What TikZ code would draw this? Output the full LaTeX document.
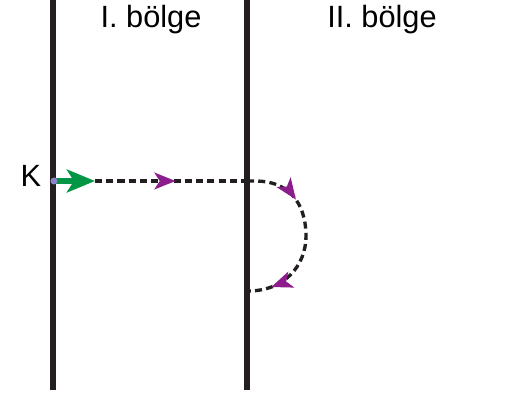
\documentclass[tikz,border=0pt]{standalone}
\usepackage{fontspec}
\setmainfont{Liberation Sans}
\usepackage{tikz}
\usetikzlibrary{arrows.meta, positioning, decorations.markings}

\definecolor{wallgray}{RGB}{35,31,32}
\definecolor{kgreen}{RGB}{0,150,70}
\definecolor{kpurple}{RGB}{140,30,140}
\definecolor{kdot}{RGB}{140,130,200}

\begin{document}
\begin{tikzpicture}[
  x=0.02cm, y=-0.02cm,
  font=\fontsize{17.5}{20}\selectfont,
  wall/.style={line width=2.9pt, wallgray},
  path/.style={line width=1.9pt, wallgray, dash pattern=on 4pt off 2.4pt},
  go/.style={line width=3pt, kgreen, -{Stealth[length=16pt, width=13pt, inset=4pt]}},
  tip/.style={postaction={decorate, decoration={markings,
      mark=at position #1 with {\arrow[kpurple]{Stealth[length=12pt, width=9.5pt, inset=3pt]}}}}},
]
  \useasboundingbox (0,0) rectangle (509,397);

  % walls
  \draw[wall] (53,0) -- (53,390);
  \draw[wall] (247,0) -- (247,390);

  \node (t1) at (151,20) {I.\ bölge};
  \node (t2) at (382,20) {II.\ bölge};
  \node (k) at (31,176) {K};

  \coordinate (src) at (54,181);
  \coordinate (gtip) at (95,181);
  \coordinate (hit) at (247,181);
  \coordinate (back) at (248,291);

  \draw[path, tip=0.53] (gtip) -- (hit);
  \draw[path, tip=0.3, tip=0.87] (hit) -- (255,181)
    .. controls (296,181) and (306,212) .. (306,236)
    .. controls (306,265) and (285,291) .. (back);
  \draw[go] (src) -- (gtip);
  \fill[kdot] (src) circle (3.5);
\end{tikzpicture}
\end{document}
